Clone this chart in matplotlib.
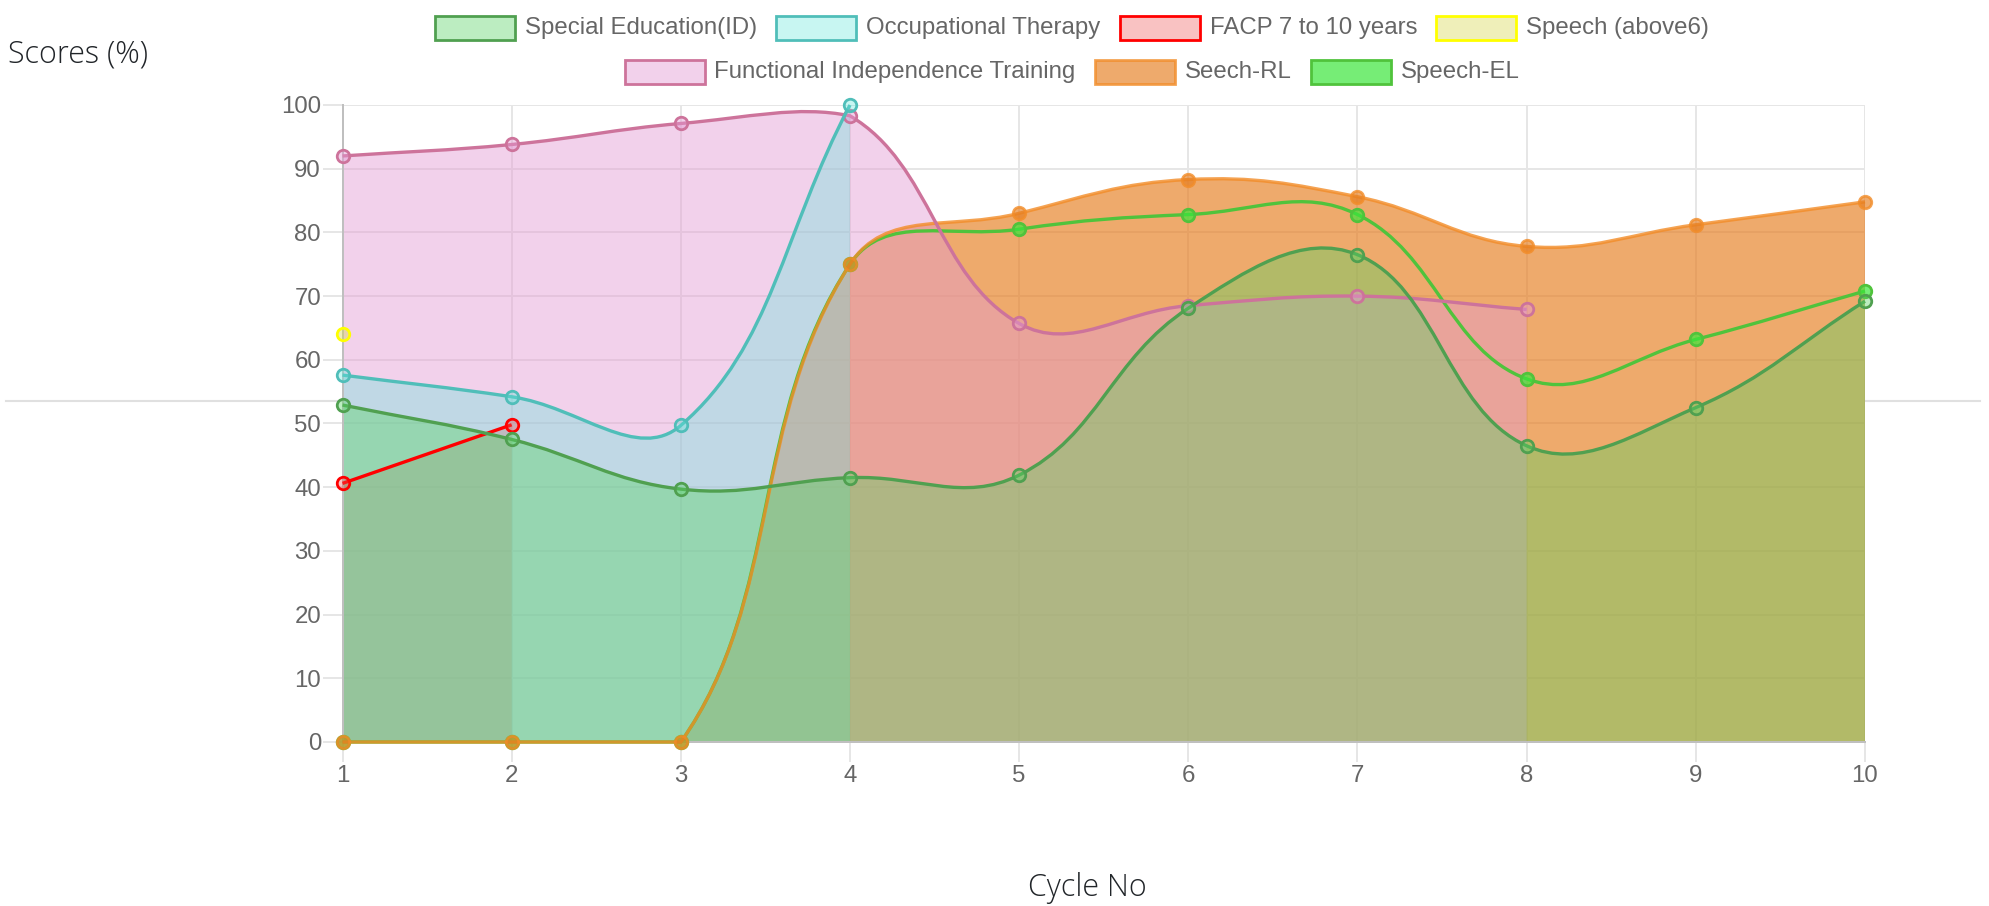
import numpy as np
import matplotlib
matplotlib.use('Agg')
import matplotlib.pyplot as plt
from matplotlib.path import Path
from matplotlib.patches import PathPatch, Rectangle
from matplotlib.lines import Line2D
from matplotlib import font_manager

# data
cycles = [1, 2, 3, 4, 5, 6, 7, 8, 9, 10]
special_ed = [52.9, 47.5, 39.7, 41.5, 41.9, 68.1, 76.5, 46.5, 52.5, 69.2]
occ_therapy = [57.6, 54.2, 49.7, 100.0]
facp = [40.6, 49.8]
speech_above6 = [64.1]
fit_training = [92.0, 93.8, 97.1, 98.3, 65.7, 68.5, 70.0, 67.9]
speech_rl = [0, 0, 0, 75.0, 83.0, 88.3, 85.6, 77.8, 81.2, 84.8]
speech_el = [0, 0, 0, 75.0, 80.5, 82.8, 82.8, 57.0, 63.2, 70.8]

names = ['Special Education(ID)', 'Occupational Therapy', 'FACP 7 to 10 years',
         'Speech (above6)', 'Functional Independence Training', 'Seech-RL', 'Speech-EL']
series = [special_ed, occ_therapy, facp, speech_above6, fit_training, speech_rl, speech_el]
borders = [(80/255, 160/255, 80/255, 1), (80/255, 190/255, 185/255, 1), (1, 0, 0, 1),
           (1, 1, 0, 1), (205/255, 115/255, 155/255, 1), (242/255, 140/255, 40/255, 0.8),
           (80/255, 195/255, 60/255, 1)]
fills = [(88/255, 212/255, 100/255, 0.4), (100/255, 230/255, 220/255, 0.35),
         (240/255, 80/255, 80/255, 0.35), (215/255, 215/255, 80/255, 0.4),
         (228/255, 155/255, 211/255, 0.45), (230/255, 125/255, 30/255, 0.65),
         (60/255, 230/255, 60/255, 0.7)]
has_fill = [True, True, True, True, True, True, False]

avail = {f.name for f in font_manager.fontManager.ttflist}
def pick(*fams):
    for f in fams:
        if f in avail:
            return f
    return 'DejaVu Sans'
sans = pick('Liberation Sans', 'Arial', 'DejaVu Sans')
title_font = pick('Open Sans', 'Noto Sans', 'Lato')

W, H = 1989, 906
fig = plt.figure(figsize=(W / 100, H / 100), dpi=100)
ax = fig.add_axes([342.5 / W, 1 - 742 / H, (1865 - 342.5) / W, (742 - 105) / H])
ax.set_xlim(1, 10)
ax.set_ylim(0, 100)
ax.set_xticks(cycles)
ax.set_yticks(np.arange(0, 101, 10))
ax.set_axisbelow(True)
ax.grid(color='#e6e6e6', linewidth=1.44)
for s in ['top', 'right']:
    ax.spines[s].set_visible(False)
for s in ['left', 'bottom']:
    ax.spines[s].set_color('#bfbfbf')
    ax.spines[s].set_linewidth(1.44)
ax.tick_params(length=14.4, width=1.44, color='#e6e6e6', labelcolor='#666666',
               labelsize=17.3)
ax.tick_params(axis='y', pad=1)
ax.tick_params(axis='x', pad=2)
for lab in ax.get_xticklabels() + ax.get_yticklabels():
    lab.set_family(sans)


def spline(xs, ys, tension=0.4):
    pts = ax.transData.transform(np.column_stack([xs, ys]))
    x0, y0, x1, y1 = ax.bbox.extents
    n = len(pts)
    cps = []
    for i in range(n):
        prev, cur, nxt = pts[max(i - 1, 0)], pts[i], pts[min(i + 1, n - 1)]
        d01 = np.hypot(*(cur - prev))
        d12 = np.hypot(*(nxt - cur))
        tot = d01 + d12
        s01 = d01 / tot if tot else 0
        s12 = d12 / tot if tot else 0
        cp_prev = cur - tension * s01 * (nxt - prev)
        cp_next = cur + tension * s12 * (nxt - prev)
        cp_prev = np.array([np.clip(cp_prev[0], x0, x1), np.clip(cp_prev[1], y0, y1)])
        cp_next = np.array([np.clip(cp_next[0], x0, x1), np.clip(cp_next[1], y0, y1)])
        cps.append((cp_prev, cp_next))
    verts = [pts[0]]
    codes = [Path.MOVETO]
    for i in range(n - 1):
        verts += [cps[i][1], cps[i + 1][0], pts[i + 1]]
        codes += [Path.CURVE4] * 3
    verts = ax.transData.inverted().transform(np.array(verts))
    return verts, codes


order = list(range(len(series)))[::-1]
# fills first (last dataset at the bottom), then lines and points
for k, i in enumerate(order):
    ys = series[i]
    xs = cycles[:len(ys)]
    if not has_fill[i] or len(ys) < 2:
        continue
    verts, codes = spline(xs, ys)
    verts = np.vstack([verts, [[xs[-1], 0], [xs[0], 0], [xs[0], ys[0]]]])
    codes = codes + [Path.LINETO, Path.LINETO, Path.CLOSEPOLY]
    ax.add_patch(PathPatch(Path(verts, codes), facecolor=fills[i], edgecolor='none',
                           zorder=1 + k * 0.01))

for k, i in enumerate(order):
    ys = series[i]
    xs = cycles[:len(ys)]
    z = 3 + k * 0.01
    if len(ys) > 1:
        verts, codes = spline(xs, ys)
        ax.add_patch(PathPatch(Path(verts, codes), facecolor='none', edgecolor=borders[i],
                               linewidth=2.4, zorder=z, clip_on=False))
    ax.plot(xs, ys, 'o', markersize=9, markerfacecolor=fills[i],
            markeredgecolor=borders[i], markeredgewidth=2.0, zorder=z + 0.005, clip_on=False)

# page rule behind the chart
fig.add_artist(Line2D([6 / W, 1980 / W], [1 - 401 / H] * 2, transform=fig.transFigure,
                      color='#e0e0e0', linewidth=1.5, zorder=-1))

fig.text(8 / W, 1 - 55 / H, 'Scores (%)', fontsize=22, family=title_font,
         fontweight='light', color='#212529', ha='left', va='center')
fig.text(1087 / W, 1 - 888 / H, 'Cycle No', fontsize=22, family=title_font,
         fontweight='light', color='#212529', ha='center', va='center')

# legend in two centred rows
renderer = fig.canvas.get_renderer()
rows = [[0, 1, 2, 3], [4, 5, 6]]
row_y = [28, 72]
box_w, box_h = 80, 24
for row, yc in zip(rows, row_y):
    texts, widths = [], []
    for i in row:
        t = fig.text(0, 0, names[i], fontsize=17.3, family=sans, color='#666666',
                     ha='left', va='center')
        widths.append(t.get_window_extent(renderer).width)
        texts.append(t)
    total = sum(box_w + 10 + w for w in widths) + 19 * (len(row) - 1)
    x = 1072 - total / 2
    for i, t, w in zip(row, texts, widths):
        fig.add_artist(Rectangle((x / W, 1 - (yc + box_h / 2) / H), box_w / W, box_h / H,
                                 transform=fig.transFigure, facecolor=fills[i],
                                 edgecolor=borders[i], linewidth=2))
        t.set_position(((x + box_w + 10) / W, 1 - yc / H))
        x += box_w + 10 + w + 19

fig.savefig('out.png', dpi=100)
